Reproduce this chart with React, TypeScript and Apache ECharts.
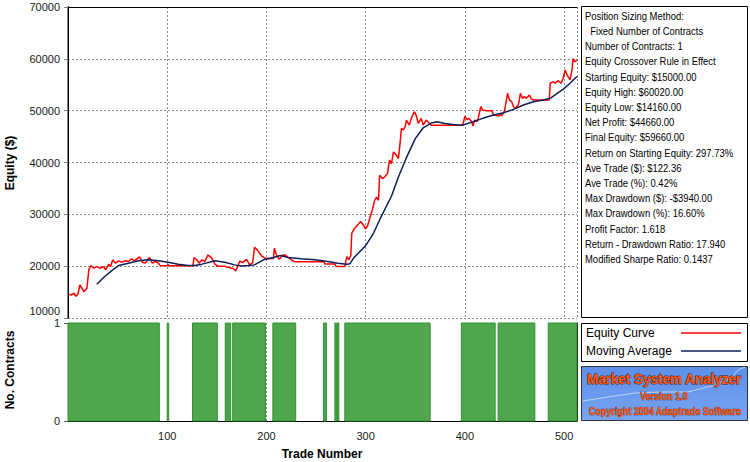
import React, { useEffect, useRef } from "react";
import * as echarts from "echarts";

// ---- data ----
const tradeCount = 513;
const equityRange = [10000, 70000];
const equityStep = 10000;
const tradeStep = 100;
const contractsRange = [0, 1];

// [trade number, equity $]
const equityCurve: [number, number][] = [
  [1, 14600], [3, 14440], [6, 14770], [8, 14200], [10, 14580], [12, 16380], [14, 15740],
  [16, 15080], [19, 15700], [21, 19280], [23, 20120], [26, 19610], [29, 19920], [32, 19610],
  [36, 19920], [38, 19280], [41, 20390], [43, 19920], [45, 21220], [48, 20580], [51, 21030],
  [54, 20770], [58, 21030], [61, 20900], [64, 21410], [67, 21030], [72, 21800], [75, 20770],
  [78, 20580], [82, 21700], [85, 20580], [88, 20900], [91, 20580], [93, 20100], [100, 20100],
  [101, 20300], [102, 20100], [126, 20100], [127, 21650], [130, 21190], [132, 20580],
  [135, 21220], [138, 20900], [141, 22190], [145, 21550], [148, 20400], [151, 20000],
  [158, 20000], [160, 19800], [162, 19800], [164, 19600], [166, 19600], [169, 19100],
  [171, 19900], [173, 20950], [176, 20700], [180, 21300], [183, 20300], [186, 20600],
  [188, 23650], [191, 23100], [195, 22000], [199, 21500], [207, 21500], [208, 23480],
  [210, 22190], [213, 21300], [216, 22100], [219, 22160], [222, 21680], [225, 21220],
  [228, 20900], [230, 20850], [258, 20850], [259, 20400], [261, 20400], [269, 20400],
  [270, 20000], [272, 19950], [279, 19950], [281, 21860], [283, 21200], [285, 22000],
  [286, 26360], [289, 27330], [292, 27980], [295, 28620], [298, 27840], [300, 27200],
  [302, 27800], [304, 29150], [307, 31080], [309, 32700], [311, 33300], [313, 32700],
  [314, 37530], [317, 36890], [319, 37200], [322, 37860], [324, 40440], [326, 39800],
  [328, 42040], [331, 41400], [333, 40760], [335, 44310], [336, 46570], [338, 46300],
  [340, 47020], [341, 48180], [344, 47210], [346, 48520], [349, 49800], [351, 49030],
  [353, 47540], [356, 48500], [358, 47210], [361, 48180], [363, 47800], [366, 47210],
  [396, 47210], [398, 47300], [400, 48950], [402, 48300], [404, 48500], [407, 47850],
  [408, 47020], [410, 48200], [412, 47900], [413, 48200], [416, 50760], [418, 50120],
  [422, 50000], [427, 50000], [429, 49150], [434, 48950], [436, 49300], [437, 49000],
  [440, 49990], [443, 53350], [445, 52050], [447, 51800], [449, 50760], [451, 50450],
  [454, 51200], [456, 53350], [458, 52380], [460, 52700], [462, 52380], [465, 53020],
  [467, 52300], [469, 52050], [483, 52050], [485, 52050], [486, 55290], [489, 55600],
  [491, 55290], [494, 55790], [497, 55290], [499, 56200], [501, 57860], [503, 56900],
  [506, 55930], [508, 57860], [509, 60020], [511, 59480], [513, 59660],
];

const movingAverage: [number, number][] = [
  [29, 16520], [37, 18000], [46, 19420], [51, 20120], [61, 20580], [71, 21030], [81, 21220],
  [91, 21030], [101, 20770], [111, 20390], [121, 20120], [128, 20150], [135, 20390],
  [148, 21030], [158, 20770], [168, 20250], [175, 20050], [182, 20120], [188, 20250],
  [197, 21220], [207, 21680], [214, 22060], [222, 21680], [235, 21420], [249, 21220],
  [262, 20900], [272, 20580], [281, 20390], [284, 20450], [288, 21600], [291, 22190],
  [300, 23950], [308, 26390], [315, 29300], [326, 33490], [333, 37200], [341, 40900],
  [350, 44600], [358, 46700], [366, 47600], [372, 47850], [380, 47540], [388, 47350],
  [395, 47210], [398, 47210], [408, 47850], [418, 48520], [429, 49150], [439, 49600],
  [449, 50250], [459, 51090], [469, 51720], [479, 52050], [486, 52380], [492, 53210],
  [499, 54120], [506, 55290], [511, 56250], [513, 56570],
];

// trade ranges traded with one contract: [from, to]
const contractIntervals: [number, number][] = [
  [0, 92], [100, 101.5], [125.5, 150.5], [158.5, 160.5], [161.5, 164], [166, 199],
  [206.5, 229.5], [257.5, 260.5], [269, 270.5], [271.5, 273], [279, 365], [396.5, 430.5],
  [433.5, 470.5], [484, 513],
];
const contractsLevel = 1;

const statsLines = [
  "Position Sizing Method:",
  "  Fixed Number of Contracts",
  "Number of Contracts: 1",
  "Equity Crossover Rule in Effect",
  "Starting Equity: $15000.00",
  "Equity High: $60020.00",
  "Equity Low: $14160.00",
  "Net Profit: $44660.00",
  "Final Equity: $59660.00",
  "Return on Starting Equity: 297.73%",
  "Ave Trade ($): $122.36",
  "Ave Trade (%): 0.42%",
  "Max Drawdown ($): -$3940.00",
  "Max Drawdown (%): 16.60%",
  "Profit Factor: 1.618",
  "Return - Drawdown Ratio: 17.940",
  "Modified Sharpe Ratio: 0.1437",
];

const legendNames = ["Equity Curve", "Moving Average"];
const seriesColors = ["#ff0000", "#0c1f5c"];

const FONT_REG = '"Liberation Sans", Arial, sans-serif';

export default function App() {
  const ref = useRef<HTMLDivElement>(null);

  useEffect(() => {
    if (!ref.current) return;
    const chart = echarts.init(ref.current, undefined, { renderer: "svg" });

    const gridL = 68;
    const gridW = 509;
    const dashed = { color: "#8a8a8a", type: [2, 2] as number[], width: 1 };

    const statsTexts = statsLines.map((t, i) => ({
      type: "text",
      x: 585,
      y: 16 + 15.2 * i,
      scaleX: 0.86,
      style: {
        text: t,
        font: `11px ${FONT_REG}`,
        fill: "#000",
        verticalAlign: "middle",
        align: "left",
      },
    }));

    const legendGraphics: any[] = [];
    legendNames.forEach((n, i) => {
      const y = 333 + 18 * i;
      legendGraphics.push({
        type: "text",
        x: 586,
        y,
        style: { text: n, font: `12px ${FONT_REG}`, fill: "#000", verticalAlign: "middle" },
      });
      legendGraphics.push({
        type: "line",
        shape: { x1: 681, y1: y, x2: 741, y2: y },
        style: { stroke: seriesColors[i], lineWidth: 1.5 },
      });
    });

    chart.setOption({
      animation: false,
      backgroundColor: "#ffffff",
      grid: [
        { left: gridL, top: 7, width: gridW, height: 311 },
        { left: gridL, top: 323, width: gridW, height: 98 },
      ],
      xAxis: [
        {
          gridIndex: 0, type: "value", min: 0, max: tradeCount, interval: tradeStep,
          axisLine: { show: false }, axisTick: { show: false }, axisLabel: { show: false },
          splitLine: { show: true, lineStyle: dashed },
        },
        {
          gridIndex: 0, type: "value", position: "top", min: 0, max: tradeCount,
          axisLine: { show: true, lineStyle: { color: "#000", width: 1 } },
          axisTick: { show: false }, axisLabel: { show: false }, splitLine: { show: false },
        },
        {
          gridIndex: 1, type: "value", min: 0, max: tradeCount, interval: tradeStep,
          axisLine: { show: true, onZero: false, lineStyle: { color: "#000", width: 1 } },
          axisTick: { show: false },
          axisLabel: {
            color: "#1a1a1a", fontSize: 11, fontFamily: FONT_REG, margin: 9,
            showMinLabel: false, showMaxLabel: false,
          },
          splitLine: { show: true, lineStyle: dashed },
        },
      ],
      yAxis: [
        {
          gridIndex: 0, type: "value", min: equityRange[0], max: equityRange[1], interval: equityStep,
          axisLine: { show: true, lineStyle: { color: "#808080", width: 2 } },
          axisTick: { show: true, length: 4, lineStyle: { color: "#808080" } },
          axisLabel: {
            color: "#1a1a1a", fontSize: 11, fontFamily: FONT_REG, margin: 8,
            formatter: (v: number) => (v === equityRange[0] ? `{lift|${v}}` : `${v}`),
            rich: { lift: { padding: [0, 0, 15, 0], fontSize: 11, fontFamily: FONT_REG, color: "#1a1a1a" } },
          },
          splitLine: { show: true, lineStyle: dashed },
        },
        {
          gridIndex: 0, type: "value", position: "right", min: equityRange[0], max: equityRange[1],
          axisLine: { show: true, lineStyle: { color: "#000", width: 1 } },
          axisTick: { show: false }, axisLabel: { show: false }, splitLine: { show: false },
        },
        {
          gridIndex: 1, type: "value", min: contractsRange[0], max: contractsRange[1], interval: 1,
          axisLine: { show: false },
          axisTick: { show: true, length: 4, lineStyle: { color: "#555" } },
          axisLabel: { color: "#1a1a1a", fontSize: 11, fontFamily: FONT_REG, margin: 8 },
          splitLine: { show: false },
        },
        {
          gridIndex: 1, type: "value", position: "right", min: contractsRange[0], max: contractsRange[1],
          axisLine: { show: true, lineStyle: { color: "#000", width: 1 } },
          axisTick: { show: false }, axisLabel: { show: false }, splitLine: { show: false },
        },
      ],
      series: [
        {
          type: "custom",
          name: "No. Contracts",
          xAxisIndex: 2,
          yAxisIndex: 2,
          data: contractIntervals.map(([s, e]) => [s, e, contractsLevel]),
          encode: { x: [0, 1], y: 2 },
          renderItem: (params: any, api: any) => {
            const p0 = api.coord([api.value(0), api.value(2)]);
            const p1 = api.coord([api.value(1), 0]);
            return {
              type: "rect",
              shape: { x: p0[0], y: p0[1], width: p1[0] - p0[0], height: p1[1] - p0[1] },
              style: { fill: "#4fa64f", stroke: "#2f932f", lineWidth: 1 },
            };
          },
          z: 2,
        },
        {
          type: "line",
          name: legendNames[0],
          xAxisIndex: 0,
          yAxisIndex: 0,
          data: equityCurve,
          showSymbol: false,
          lineStyle: { color: seriesColors[0], width: 1.5 },
          z: 3,
        },
        {
          type: "line",
          name: legendNames[1],
          xAxisIndex: 0,
          yAxisIndex: 0,
          data: movingAverage,
          showSymbol: false,
          lineStyle: { color: seriesColors[1], width: 1.5 },
          z: 4,
        },
      ],
      graphic: [
        {
          type: "text", x: 10, y: 163, rotation: Math.PI / 2,
          style: { text: "Equity ($)", font: `bold 12px ${FONT_REG}`, fill: "#000", align: "center", verticalAlign: "middle" },
        },
        {
          type: "text", x: 10, y: 370, rotation: Math.PI / 2,
          style: { text: "No. Contracts", font: `bold 12px ${FONT_REG}`, fill: "#000", align: "center", verticalAlign: "middle" },
        },
        {
          type: "text", x: 322, y: 454,
          style: { text: "Trade Number", font: `bold 12px ${FONT_REG}`, fill: "#000", align: "center", verticalAlign: "middle" },
        },
        {
          type: "rect", shape: { x: 581.5, y: 6.5, width: 166, height: 311 },
          style: { fill: "#fff", stroke: "#000", lineWidth: 1 },
        },
        ...statsTexts,
        {
          type: "rect", shape: { x: 581.5, y: 323.5, width: 166, height: 38 },
          style: { fill: "#fff", stroke: "#000", lineWidth: 1 },
        },
        ...legendGraphics,
        {
          type: "rect", shape: { x: 581.5, y: 366.5, width: 166, height: 54 },
          style: {
            fill: new echarts.graphic.LinearGradient(0, 0, 0, 1, [
              { offset: 0, color: "#5d8fe9" },
              { offset: 1, color: "#78a4f2" },
            ]),
            stroke: "#333",
            lineWidth: 1,
          },
        },
        {
          type: "polyline",
          shape: {
            points: [[583, 401], [608, 397], [635, 393], [662, 392], [688, 392], [715, 385], [732, 377], [738, 370], [745, 367]],
          },
          style: { stroke: "rgba(255,255,255,0.55)", lineWidth: 1, fill: null },
        },
        {
          type: "text", x: 664, y: 379, scaleX: 0.96,
          style: {
            text: "Market System Analyzer", font: `bold 14px ${FONT_REG}`,
            fill: "#ff5a14", stroke: "#4a1800", lineWidth: 1, align: "center", verticalAlign: "middle",
          },
        },
        {
          type: "text", x: 664, y: 396, scaleX: 0.9,
          style: {
            text: "Version 1.0", font: `bold 10px ${FONT_REG}`,
            fill: "#ff5a14", stroke: "#4a1800", lineWidth: 0.6, align: "center", verticalAlign: "middle",
          },
        },
        {
          type: "text", x: 665, y: 411, scaleX: 0.9,
          style: {
            text: "Copyright 2004 Adaptrade Software", font: `bold 10px ${FONT_REG}`,
            fill: "#ff5a14", stroke: "#4a1800", lineWidth: 0.6, align: "center", verticalAlign: "middle",
          },
        },
      ],
    });

    return () => chart.dispose();
  }, []);

  return <div ref={ref} style={{ width: 750, height: 462, position: "absolute", left: 0, top: 0 }} />;
}
